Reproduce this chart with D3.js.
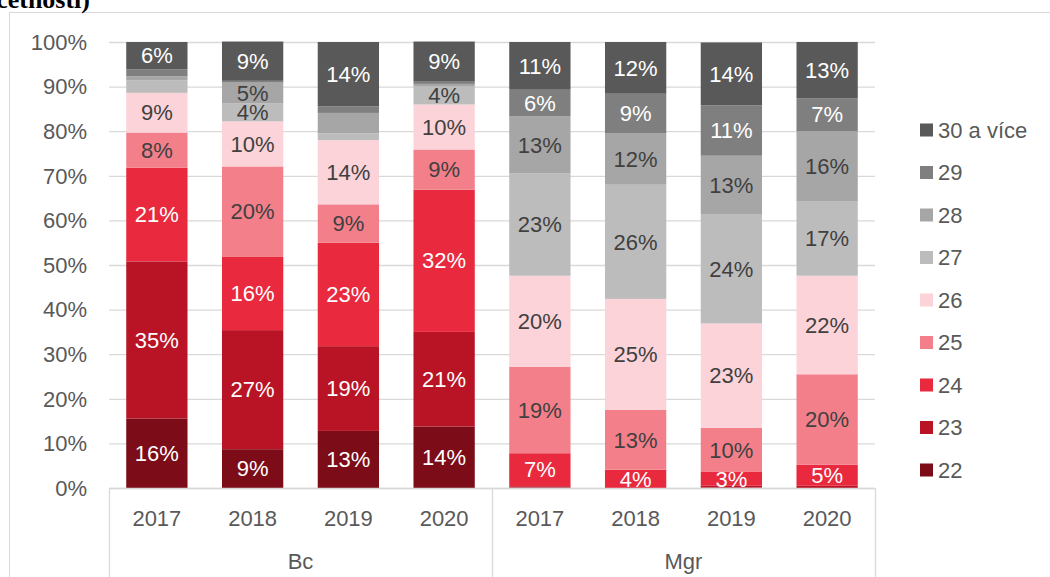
<!DOCTYPE html>
<html>
<head>
<meta charset="utf-8">
<script src="https://cdn.jsdelivr.net/npm/d3@7.9.0/dist/d3.min.js"></script>
<style>
  body { margin: 0; background: #fff; }
  svg { display: block; font-family: "Liberation Sans", Arial, sans-serif; }
</style>
</head>
<body>
<svg id="chart" width="1050" height="577"></svg>
<script>
// categories: two study levels x four years
const groups = ["Bc", "Mgr"];
const years = ["2017", "2018", "2019", "2020"];
const ageGroups = ["22", "23", "24", "25", "26", "27", "28", "29", "30 a více"];
const yTicks = [0, 10, 20, 30, 40, 50, 60, 70, 80, 90, 100];

// shares in % (Bc 2017..2020, Mgr 2017..2020)
const age22 = [15.6, 8.7, 12.8, 13.8, 0.1, 0, 0.1, 0];
const age23 = [35.2, 26.7, 19.0, 21.2, 0.3, 0, 0.4, 0.5];
const age24 = [21.0, 16.4, 23.2, 31.9, 7.4, 4.1, 3.1, 4.7];
const age25 = [7.9, 20.3, 8.6, 9.0, 19.4, 13.4, 9.9, 20.3];
const age26 = [8.9, 10.1, 14.4, 10.1, 20.4, 24.9, 23.4, 22.1];
const age27 = [2.8, 4.0, 1.5, 4.0, 22.9, 25.6, 24.4, 16.6];
const age28 = [0.9, 4.7, 4.6, 0.6, 12.8, 11.6, 13.2, 15.8];
const age29 = [1.6, 0.4, 1.5, 0.5, 6.0, 8.8, 11.3, 7.4];
const age30 = [6.1, 8.8, 14.4, 9.0, 10.7, 11.6, 14.1, 12.6];

// labels that were left out in the original
const noLabel = ["Bc 2019|28"];

const colors = ["#7b0c18", "#b91426", "#e8293e", "#f37f8a", "#fbd3d8",
                "#bcbcbc", "#a6a6a6", "#7f7f7f", "#595959"];
const labelColors = ["#fff", "#fff", "#fff", "#404040", "#404040",
                     "#404040", "#404040", "#fff", "#fff"];

const seriesValues = [age22, age23, age24, age25, age26, age27, age28, age29, age30];

const rows = [];
groups.forEach((g, gi) => {
  years.forEach((y, yi) => {
    const row = { key: g + " " + y, group: g, year: y };
    ageGroups.forEach((a, ai) => { row[a] = seriesValues[ai][gi * years.length + yi]; });
    rows.push(row);
  });
});

const svg = d3.select("#chart");
const fontSize = 22;

// outer chart frame + cut-off title
svg.append("rect")
  .attr("x", 9.5).attr("y", 12.5).attr("width", 1100).attr("height", 600)
  .attr("fill", "none").attr("stroke", "#d9d9d9");
svg.append("text")
  .attr("x", 90).attr("y", 8)
  .attr("text-anchor", "end")
  .attr("font-family", "'Liberation Serif', 'Times New Roman', serif")
  .attr("font-weight", "bold").attr("font-size", 26)
  .attr("fill", "#000")
  .text("četností)");

const plotLeft = 109, plotRight = 875, plotTop = 42, plotBottom = 488;

const x = d3.scaleBand().domain(rows.map(d => d.key)).range([plotLeft, plotRight]).paddingInner(0.36).paddingOuter(0.18);
const y = d3.scaleLinear().domain([0, 100]).range([plotBottom, plotTop]);

// gridlines
svg.append("g")
  .selectAll("line")
  .data(yTicks)
  .join("line")
  .attr("x1", plotLeft).attr("x2", plotRight)
  .attr("y1", d => y(d) + 0.5).attr("y2", d => y(d) + 0.5)
  .attr("stroke", "#d9d9d9").attr("stroke-width", 1.3);

// y axis labels
svg.append("g")
  .selectAll("text")
  .data(yTicks)
  .join("text")
  .attr("x", 87).attr("y", d => y(d))
  .attr("dy", "0.35em")
  .attr("text-anchor", "end")
  .attr("font-size", fontSize).attr("fill", "#595959")
  .text(d => d + "%");

const stack = d3.stack().keys(ageGroups);
const stacked = stack(rows);

const layers = svg.append("g")
  .selectAll("g")
  .data(stacked)
  .join("g")
  .attr("fill", (d, i) => colors[i]);

layers.selectAll("rect")
  .data(d => d)
  .join("rect")
  .attr("x", d => x(d.data.key))
  .attr("width", x.bandwidth())
  .attr("y", d => y(d[1]))
  .attr("height", d => y(d[0]) - y(d[1]));

// data labels
stacked.forEach((layer, i) => {
  svg.append("g")
    .selectAll("text")
    .data(layer.filter(d => (d[1] - d[0]) >= 3 && !noLabel.includes(d.data.key + "|" + layer.key)))
    .join("text")
    .attr("x", d => x(d.data.key) + x.bandwidth() / 2)
    .attr("y", d => y((d[0] + d[1]) / 2))
    .attr("dy", "0.35em")
    .attr("text-anchor", "middle")
    .attr("font-size", fontSize)
    .attr("fill", labelColors[i])
    .text(d => Math.round(d[1] - d[0]) + "%");
});

// category axis: years and groups with separators
svg.append("line")
  .attr("x1", plotLeft).attr("x2", plotRight)
  .attr("y1", plotBottom + 0.5).attr("y2", plotBottom + 0.5)
  .attr("stroke", "#d9d9d9").attr("stroke-width", 1.3);

const groupEdges = [plotLeft, (plotLeft + plotRight) / 2, plotRight];
svg.append("g")
  .selectAll("line")
  .data(groupEdges)
  .join("line")
  .attr("x1", d => Math.round(d) + 0.5).attr("x2", d => Math.round(d) + 0.5)
  .attr("y1", plotBottom).attr("y2", 577)
  .attr("stroke", "#d9d9d9").attr("stroke-width", 1.3);

svg.append("g")
  .selectAll("text")
  .data(rows)
  .join("text")
  .attr("x", d => x(d.key) + x.bandwidth() / 2)
  .attr("y", 518).attr("dy", "0.35em")
  .attr("text-anchor", "middle")
  .attr("font-size", fontSize).attr("fill", "#595959")
  .text(d => d.year);

const groupScale = d3.scaleBand().domain(groups).range([plotLeft, plotRight]);
svg.append("g")
  .selectAll("text")
  .data(groups)
  .join("text")
  .attr("x", d => groupScale(d) + groupScale.bandwidth() / 2)
  .attr("y", 561).attr("dy", "0.35em")
  .attr("text-anchor", "middle")
  .attr("font-size", fontSize).attr("fill", "#595959")
  .text(d => d);

// legend, top entry is the last series
const legendItems = ageGroups.slice().reverse();
const legend = svg.append("g")
  .selectAll("g")
  .data(legendItems)
  .join("g")
  .attr("transform", (d, i) => `translate(920, ${130 + i * 42.5})`);

legend.append("rect")
  .attr("x", 0).attr("y", -6.5).attr("width", 13).attr("height", 13)
  .attr("fill", d => colors[ageGroups.indexOf(d)]);

legend.append("text")
  .attr("x", 18).attr("y", 0).attr("dy", "0.35em")
  .attr("font-size", fontSize).attr("fill", "#595959")
  .text(d => d);
</script>
</body>
</html>
